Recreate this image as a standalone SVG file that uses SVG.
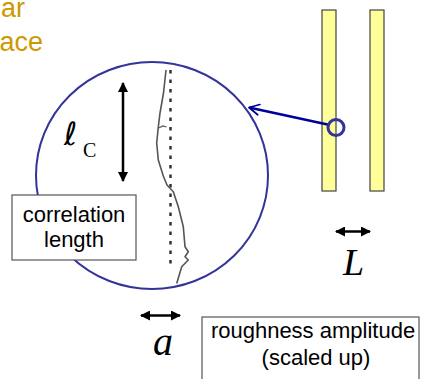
<svg xmlns="http://www.w3.org/2000/svg" width="423" height="379" viewBox="0 0 423 379">
<style>
.sans{font-family:"Liberation Sans",Arial,sans-serif;font-size:22px;fill:#000}
.math{font-family:"Liberation Serif","Times New Roman",serif;font-style:italic;fill:#000}
.upr{font-family:"Liberation Serif","Times New Roman",serif;font-style:normal;font-weight:normal;fill:#000}
.ell{font-family:"DejaVu Sans",sans-serif;font-style:italic;font-weight:200;fill:#000}
.gold{font-family:"Liberation Sans",Arial,sans-serif;font-size:27px;fill:#CC9900}
.box{fill:#fff;stroke:#555;stroke-width:1.2}
.bar{fill:#FFFF99;stroke:#444;stroke-width:1.2}
.blk{stroke:#000;stroke-width:2.5;fill:none}
</style>
<defs>
<marker id="ah" viewBox="0 0 10 10" refX="9" refY="5" markerWidth="4" markerHeight="4" orient="auto-start-reverse" markerUnits="strokeWidth">
<path d="M0,0 L10,5 L0,10 z" fill="#000"/>
</marker>
<marker id="bh" viewBox="0 0 10 10" refX="9" refY="5" markerWidth="5" markerHeight="5" orient="auto" markerUnits="strokeWidth">
<path d="M1,0.8 L9,5 L1,9.2" fill="none" stroke="#000099" stroke-width="1.4" stroke-linecap="round" stroke-linejoin="round"/>
</marker>
</defs>
<g id="title">
<text class="gold" x="25" y="17" text-anchor="end">ar</text>
<text class="gold" x="43" y="51" text-anchor="end">ace</text>
</g>
<g id="plates">
<rect class="bar" x="322" y="10" width="14" height="181"/>
<rect class="bar" x="370" y="10" width="14" height="181"/>
</g>
<g id="magnifier">
<ellipse cx="152" cy="175.5" rx="116" ry="113.5" fill="#fff" stroke="#333399" stroke-width="2"/>
<line x1="170.5" y1="70" x2="170.5" y2="268" stroke="#333" stroke-width="2.5" stroke-dasharray="3.5 6"/>
<path d="M166,70 L163.5,93 L160,113 L158.3,127 L156.7,143 L158.3,160 L163.3,176 L167,185 L173.3,191.7 L178.3,206.7 L183.3,226.7 L185,246.7 L188.3,251.7 L185,256.7 L188.3,260 L181.7,266.7 L176.7,283.5" fill="none" stroke="#555" stroke-width="1.6" stroke-linejoin="round"/>
<path d="M158.5,128 L163,126 L166.5,127" fill="none" stroke="#555" stroke-width="1.3"/>
</g>
<g id="spot">
<circle cx="336" cy="127.5" r="8" fill="none" stroke="#333399" stroke-width="3"/>
</g>
<g id="connectors">
<line x1="327.5" y1="124.5" x2="249" y2="107.5" stroke="#000099" stroke-width="2.5" marker-end="url(#bh)"/>
<line class="blk" x1="123" y1="83" x2="123" y2="181" marker-start="url(#ah)" marker-end="url(#ah)"/>
<line class="blk" x1="141" y1="315.5" x2="180" y2="315.5" stroke-width="2" marker-start="url(#ah)" marker-end="url(#ah)"/>
<line class="blk" x1="336" y1="231.5" x2="370" y2="231.5" stroke-width="2" marker-start="url(#ah)" marker-end="url(#ah)"/>
</g>
<g id="lc-label">
<text class="ell" x="64" y="145" font-size="32">ℓ</text>
<text class="upr" x="83" y="156.5" font-size="20">C</text>
</g>
<g id="corr-box">
<rect class="box" x="12" y="195" width="124" height="65"/>
<text class="sans" x="74" y="222" text-anchor="middle">correlation</text>
<text class="sans" x="74" y="247" text-anchor="middle">length</text>
</g>
<g id="L-label">
<text class="math" x="343" y="275" font-size="38">L</text>
</g>
<g id="a-label">
<text class="math" x="153" y="355" font-size="40">a</text>
</g>
<g id="rough-box">
<rect class="box" x="202" y="317" width="217" height="75"/>
<text class="sans" x="313" y="338" text-anchor="middle">roughness amplitude</text>
<text class="sans" x="316" y="365" text-anchor="middle">(scaled up)</text>
</g>
</svg>
